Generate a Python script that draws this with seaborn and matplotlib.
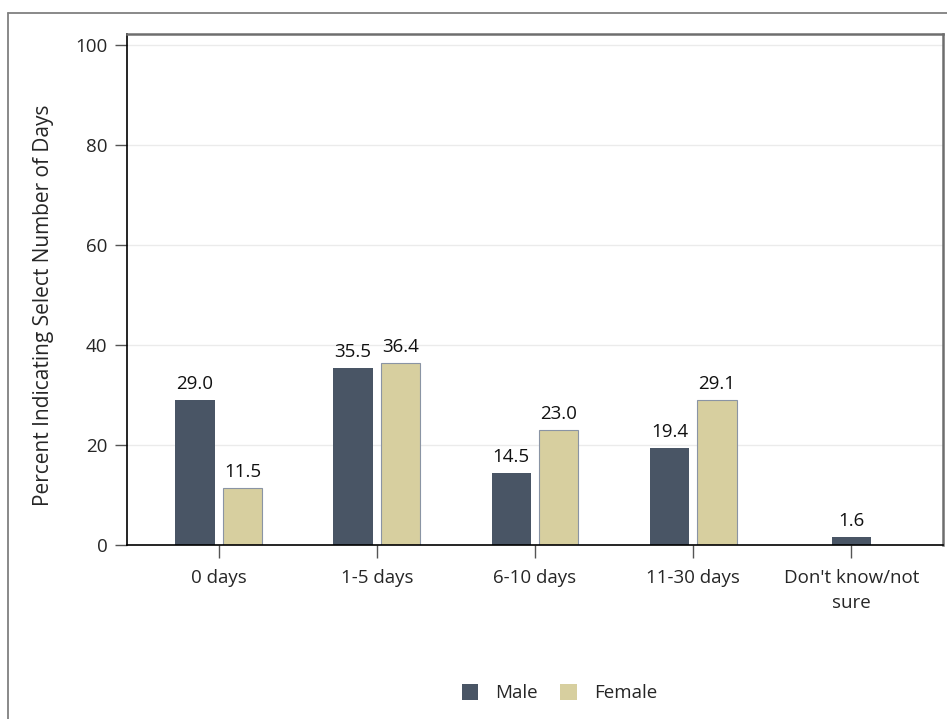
import numpy as np
import pandas as pd
import seaborn as sns
import matplotlib.pyplot as plt
from matplotlib.lines import Line2D

categories = ["0 days", "1-5 days", "6-10 days", "11-30 days", "Don't know/not\nsure"]
male = [29.0, 35.5, 14.5, 19.4, 1.6]
female = [11.5, 36.4, 23.0, 29.1, np.nan]
groups = ["Male", "Female"]
colors = {"Male": "#44546A", "Female": "#E0D696"}

df = pd.DataFrame({
    "Category": categories * 2,
    "Gender": ["Male"] * len(categories) + ["Female"] * len(categories),
    "Value": male + female,
})

sns.set_style("white")
plt.rcParams['font.family'] = ['Open Sans', 'DejaVu Sans']
fs = 13.5

fig = plt.figure(figsize=(9.47, 7.19), dpi=100)
ax = fig.add_axes([0.1341, 0.242, 0.8617, 0.7107])

sns.barplot(data=df, x="Category", y="Value", hue="Gender", hue_order=groups,
            order=categories, palette=colors, width=0.6, gap=0.17,
            edgecolor="none", linewidth=0, legend=True, ax=ax)

# female bars get a grey outline
for bar in ax.containers[1]:
    bar.set_edgecolor("#8A94A4")
    bar.set_linewidth(0.8)

# category with only one bar: center it on the tick
for bar in ax.containers[0]:
    if bar.get_x() + bar.get_width() / 2 > len(categories) - 1.5:
        c = round(bar.get_x() + bar.get_width() / 2)
        bar.set_x(c - bar.get_width() / 2)

for cont in ax.containers:
    ax.bar_label(cont, fmt="%.1f", padding=5, fontsize=fs, color="#111111")

ax.set_ylim(0, 102.2)
ax.set_xlim(-0.58, len(categories) - 1 + 0.58)
ax.set_yticks([0, 20, 40, 60, 80, 100])
ax.yaxis.grid(True, color="#EBEBEB", linewidth=1)
ax.set_axisbelow(True)
ax.tick_params(axis="y", length=9, width=1, color="#555555", labelsize=fs, pad=5, left=True)
ax.tick_params(axis="x", length=9, width=1, color="#555555", labelsize=fs, pad=8, bottom=True)
for lbl in ax.get_xticklabels():
    lbl.set_linespacing(1.55)
ax.set_xlabel("")
ax.set_ylabel("Percent Indicating Select Number of Days", fontsize=15)
ax.yaxis.set_label_coords(-0.089, 0.47)

for s in ["left", "bottom"]:
    ax.spines[s].set_color("black")
    ax.spines[s].set_linewidth(1.2)
for s in ["top", "right"]:
    ax.spines[s].set_color("#6E6E6E")
    ax.spines[s].set_linewidth(1.8)

ax.legend(loc="center", bbox_to_anchor=(0.53, -0.29), ncol=2, frameon=False,
          fontsize=fs, handlelength=0.9, handleheight=0.9, columnspacing=1.2,
          handletextpad=0.9)

# outer gray frame (partially visible)
fig.add_artist(Line2D([0.0084, 1.0], [0.982, 0.982], color="#808080", lw=1.3))
fig.add_artist(Line2D([0.0084, 0.0084], [0.0, 0.982], color="#808080", lw=1.3))

fig.savefig("out.png", dpi=100)
